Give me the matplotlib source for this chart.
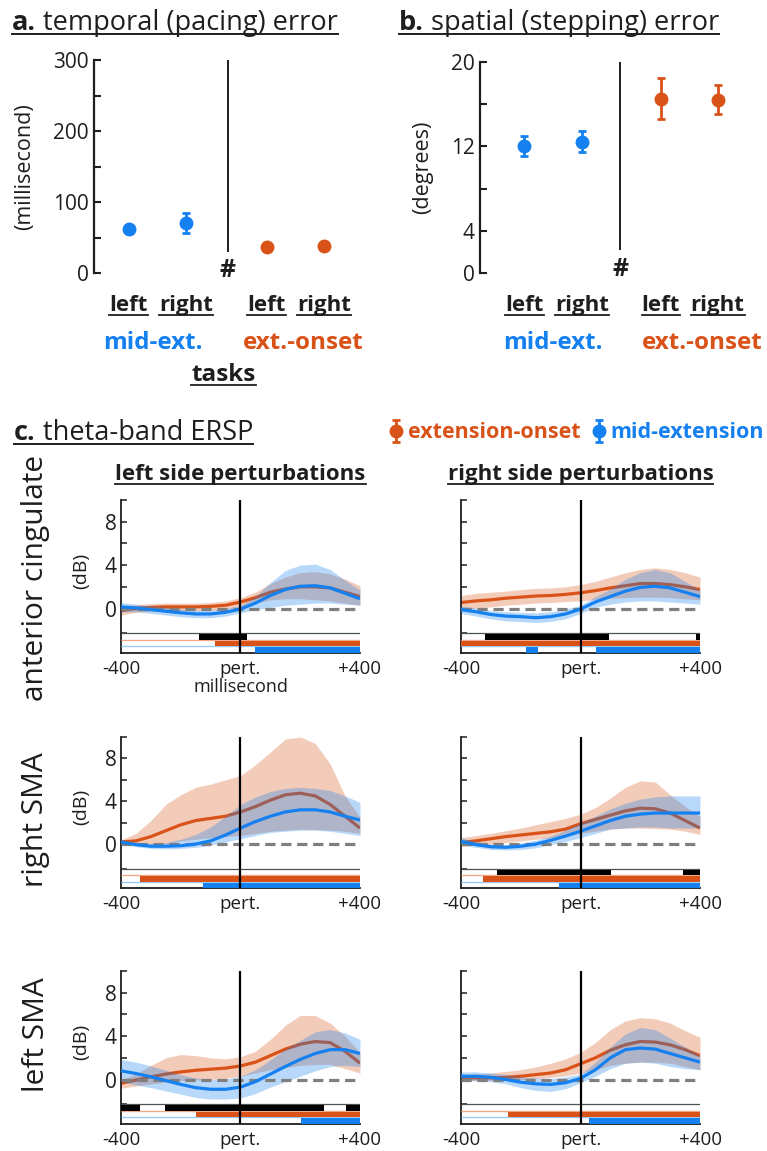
import matplotlib
matplotlib.use('Agg')
import matplotlib.pyplot as plt
from matplotlib.lines import Line2D
import numpy as np

W, H = 767, 1151
plt.rcParams['font.family'] = ['Open Sans', 'DejaVu Sans']

BLUE = '#1580f0'
ORANGE = '#d95319'
DARK = '#1e1e1e'
BLUE_LIGHT = '#9ccbf5'
ORANGE_LIGHT = '#f2a98a'

# ---------------- panel a / b data ----------------
cond_labels = ['left', 'right', 'left', 'right']
task_labels = ['mid-ext.', 'ext.-onset']
pace_mean = [62, 70, 37, 38]
pace_lo = [58, 57, 35, 36]
pace_hi = [66, 84, 39, 40]
step_mean = [12.0, 12.4, 16.5, 16.4]
step_lo = [11.1, 11.5, 14.6, 15.1]
step_hi = [13.0, 13.5, 18.5, 17.8]

# ---------------- panel c data (theta ERSP, dB) ----------------
time_ms = [-400, -350, -300, -250, -200, -150, -100, -50, 0,
           50, 100, 150, 200, 250, 300, 350, 400]

# anterior cingulate, left perturbations
ac_l_org_mean = [-0.2, 0.0, 0.1, 0.15, 0.15, 0.15, 0.2, 0.3, 0.6, 1.0, 1.5, 1.8, 2.0, 2.0, 1.9, 1.5, 1.1]
ac_l_org_hi = [0.2, 0.35, 0.45, 0.5, 0.5, 0.5, 0.55, 0.7, 1.0, 1.5, 2.3, 2.9, 3.3, 3.4, 3.2, 2.7, 2.1]
ac_l_org_lo = [-0.6, -0.35, -0.25, -0.2, -0.2, -0.2, -0.15, -0.1, 0.2, 0.5, 0.8, 0.9, 0.9, 0.8, 0.7, 0.5, 0.3]
ac_l_blu_mean = [0.15, 0.05, -0.1, -0.25, -0.4, -0.5, -0.5, -0.35, -0.05, 0.5, 1.2, 1.75, 2.05, 2.1, 1.9, 1.4, 0.9]
ac_l_blu_hi = [0.55, 0.4, 0.25, 0.1, -0.05, -0.15, -0.15, 0.0, 0.3, 1.1, 2.4, 3.5, 4.0, 4.1, 3.6, 2.6, 1.7]
ac_l_blu_lo = [-0.3, -0.3, -0.45, -0.6, -0.75, -0.85, -0.85, -0.7, -0.4, -0.1, 0.1, 0.3, 0.4, 0.5, 0.5, 0.4, 0.3]
ac_l_sig_black = [(-140, 21)]
ac_l_sig_org = [(-85, 400)]
ac_l_sig_blu = [(47, 400)]

# anterior cingulate, right perturbations
ac_r_org_mean = [0.55, 0.7, 0.8, 0.95, 1.05, 1.15, 1.2, 1.3, 1.45, 1.65, 1.9, 2.1, 2.3, 2.3, 2.2, 2.0, 1.75]
ac_r_org_hi = [1.2, 1.4, 1.5, 1.6, 1.75, 1.85, 1.9, 2.0, 2.2, 2.5, 2.9, 3.3, 3.6, 3.75, 3.6, 3.3, 2.9]
ac_r_org_lo = [-0.1, 0.05, 0.15, 0.3, 0.4, 0.5, 0.55, 0.65, 0.7, 0.85, 0.95, 1.0, 1.05, 1.05, 1.0, 0.9, 0.8]
ac_r_blu_mean = [-0.1, -0.3, -0.55, -0.7, -0.75, -0.85, -0.75, -0.5, -0.05, 0.6, 1.1, 1.6, 1.95, 2.05, 1.9, 1.5, 1.1]
ac_r_blu_hi = [0.25, 0.05, -0.2, -0.3, -0.35, -0.4, -0.3, -0.05, 0.3, 1.1, 1.8, 2.7, 3.3, 3.6, 3.3, 2.5, 1.7]
ac_r_blu_lo = [-0.45, -0.7, -0.95, -1.15, -1.2, -1.3, -1.2, -0.95, -0.45, 0.1, 0.4, 0.6, 0.7, 0.7, 0.6, 0.5, 0.4]
ac_r_sig_black = [(-319, 94), (387, 400)]
ac_r_sig_org = [(-400, 400)]
ac_r_sig_blu = [(-182, -142), (51, 400)]

# right SMA, left perturbations
rs_l_org_mean = [0.2, 0.3, 0.7, 1.25, 1.8, 2.2, 2.4, 2.6, 3.0, 3.5, 4.1, 4.6, 4.75, 4.5, 3.7, 2.6, 1.5]
rs_l_org_hi = [0.4, 1.0, 2.2, 3.7, 4.6, 5.3, 5.6, 6.0, 6.4, 7.4, 8.6, 9.8, 10.0, 9.4, 7.5, 4.5, 2.5]
rs_l_org_lo = [0.0, -0.1, -0.1, 0.0, 0.3, 0.45, 0.6, 0.7, 0.8, 1.0, 1.2, 1.3, 1.4, 1.35, 1.3, 1.2, 1.0]
rs_l_blu_mean = [0.2, -0.05, -0.2, -0.2, -0.15, 0.0, 0.3, 0.85, 1.5, 2.1, 2.6, 3.0, 3.2, 3.2, 3.0, 2.6, 2.25]
rs_l_blu_hi = [0.35, 0.15, 0.05, 0.15, 0.45, 0.9, 1.6, 2.6, 3.7, 4.4, 4.9, 5.2, 5.3, 5.2, 5.0, 4.5, 3.9]
rs_l_blu_lo = [0.0, -0.25, -0.4, -0.45, -0.4, -0.3, -0.1, 0.2, 0.5, 0.8, 1.1, 1.2, 1.3, 1.3, 1.2, 1.0, 0.8]
rs_l_sig_black = []
rs_l_sig_org = [(-335, 400)]
rs_l_sig_blu = [(-124, 400)]

# right SMA, right perturbations
rs_r_org_mean = [0.15, 0.3, 0.5, 0.7, 0.85, 1.0, 1.15, 1.4, 1.9, 2.3, 2.7, 3.1, 3.35, 3.3, 2.9, 2.2, 1.5]
rs_r_org_hi = [0.6, 0.8, 1.0, 1.25, 1.5, 1.8, 2.1, 2.4, 2.8, 3.4, 4.3, 5.3, 5.9, 5.8, 4.6, 3.5, 2.6]
rs_r_org_lo = [-0.2, -0.1, 0.0, 0.15, 0.3, 0.45, 0.6, 0.8, 1.0, 1.2, 1.4, 1.5, 1.5, 1.45, 1.4, 1.2, 0.9]
rs_r_blu_mean = [0.25, -0.05, -0.25, -0.3, -0.2, 0.0, 0.35, 0.75, 1.2, 1.7, 2.2, 2.6, 2.8, 2.9, 2.9, 2.9, 2.9]
rs_r_blu_hi = [0.6, 0.25, 0.0, -0.05, 0.1, 0.35, 0.75, 1.3, 2.0, 2.6, 3.3, 3.8, 4.2, 4.4, 4.5, 4.5, 4.5]
rs_r_blu_lo = [-0.1, -0.3, -0.5, -0.55, -0.5, -0.35, -0.05, 0.25, 0.6, 1.0, 1.4, 1.5, 1.6, 1.6, 1.5, 1.5, 1.5]
rs_r_sig_black = [(-281, 102), (343, 400)]
rs_r_sig_org = [(-326, 400)]
rs_r_sig_blu = [(-72, 400)]

# left SMA, left perturbations
ls_l_org_mean = [-0.35, -0.05, 0.25, 0.5, 0.7, 0.85, 0.95, 1.05, 1.25, 1.6, 2.2, 2.8, 3.25, 3.5, 3.4, 2.6, 1.5]
ls_l_org_hi = [0.0, 0.5, 1.3, 2.0, 2.3, 2.2, 2.0, 1.9, 2.1, 2.6, 3.7, 5.0, 5.9, 5.9, 5.2, 4.0, 2.5]
ls_l_org_lo = [-0.8, -0.6, -0.4, -0.25, -0.1, -0.05, 0.0, 0.1, 0.3, 0.6, 0.9, 1.1, 1.3, 1.4, 1.4, 1.0, 0.6]
ls_l_blu_mean = [0.8, 0.55, 0.25, -0.1, -0.45, -0.75, -0.9, -0.9, -0.7, -0.2, 0.5, 1.2, 1.85, 2.4, 2.75, 2.75, 2.4]
ls_l_blu_hi = [1.85, 1.6, 1.25, 0.85, 0.45, 0.15, 0.0, 0.05, 0.3, 0.9, 1.8, 2.8, 3.6, 4.4, 4.6, 4.3, 3.7]
ls_l_blu_lo = [-0.2, -0.5, -0.75, -1.05, -1.35, -1.65, -1.8, -1.8, -1.7, -1.3, -0.7, -0.2, 0.3, 0.8, 1.2, 1.3, 1.2]
ls_l_sig_black = [(-400, -336), (-253, 278), (354, 400)]
ls_l_sig_org = [(-148, 400)]
ls_l_sig_blu = [(204, 400)]

# left SMA, right perturbations
ls_r_org_mean = [0.15, 0.15, 0.15, 0.2, 0.3, 0.45, 0.6, 0.9, 1.45, 2.0, 2.7, 3.2, 3.5, 3.45, 3.2, 2.75, 2.2]
ls_r_org_hi = [0.4, 0.5, 0.6, 0.75, 0.9, 1.15, 1.5, 1.9, 2.5, 3.4, 4.6, 5.4, 5.7, 5.6, 5.2, 4.5, 3.9]
ls_r_org_lo = [-0.1, -0.1, -0.1, -0.05, 0.0, 0.1, 0.2, 0.35, 0.6, 0.9, 1.3, 1.5, 1.6, 1.6, 1.5, 1.2, 0.9]
ls_r_blu_mean = [0.3, 0.3, 0.2, 0.0, -0.25, -0.4, -0.45, -0.3, 0.1, 0.9, 2.0, 2.75, 2.9, 2.8, 2.4, 2.0, 1.6]
ls_r_blu_hi = [0.7, 0.7, 0.6, 0.45, 0.25, 0.15, 0.1, 0.25, 0.5, 1.6, 3.0, 4.2, 4.8, 4.6, 3.8, 3.0, 2.2]
ls_r_blu_lo = [-0.1, -0.1, -0.2, -0.4, -0.75, -1.0, -1.1, -0.85, -0.3, 0.3, 1.0, 1.5, 1.6, 1.5, 1.2, 1.0, 0.9]
ls_r_sig_black = []
ls_r_sig_org = [(-244, 400)]
ls_r_sig_blu = [(30, 400)]

row_names = ['anterior cingulate', 'right SMA', 'left SMA']
col_names = ['left side perturbations', 'right side perturbations']
xtick_vals = [-400, 0, 400]
xtick_text = ['-400', 'pert.', '+400']

panels = [
    [(ac_l_org_mean, ac_l_org_lo, ac_l_org_hi, ac_l_blu_mean, ac_l_blu_lo, ac_l_blu_hi,
      ac_l_sig_black, ac_l_sig_org, ac_l_sig_blu),
     (ac_r_org_mean, ac_r_org_lo, ac_r_org_hi, ac_r_blu_mean, ac_r_blu_lo, ac_r_blu_hi,
      ac_r_sig_black, ac_r_sig_org, ac_r_sig_blu)],
    [(rs_l_org_mean, rs_l_org_lo, rs_l_org_hi, rs_l_blu_mean, rs_l_blu_lo, rs_l_blu_hi,
      rs_l_sig_black, rs_l_sig_org, rs_l_sig_blu),
     (rs_r_org_mean, rs_r_org_lo, rs_r_org_hi, rs_r_blu_mean, rs_r_blu_lo, rs_r_blu_hi,
      rs_r_sig_black, rs_r_sig_org, rs_r_sig_blu)],
    [(ls_l_org_mean, ls_l_org_lo, ls_l_org_hi, ls_l_blu_mean, ls_l_blu_lo, ls_l_blu_hi,
      ls_l_sig_black, ls_l_sig_org, ls_l_sig_blu),
     (ls_r_org_mean, ls_r_org_lo, ls_r_org_hi, ls_r_blu_mean, ls_r_blu_lo, ls_r_blu_hi,
      ls_r_sig_black, ls_r_sig_org, ls_r_sig_blu)],
]

# ---------------- figure ----------------
fig = plt.figure(figsize=(W / 100, H / 100), dpi=100)
fig.patch.set_facecolor('white')


def ax_px(left, top, right, bottom):
    return fig.add_axes([left / W, 1 - bottom / H, (right - left) / W, (bottom - top) / H])


def ftext(x, y, s, **kw):
    return fig.text(x / W, 1 - y / H, s, **kw)


def underline(t, gap=3.5, lw=1.3):
    r = fig.canvas.get_renderer()
    bb = t.get_window_extent(r)
    yb = t.get_transform().transform(t.get_position())[1]
    y = (yb - gap) / H
    fig.add_artist(Line2D([bb.x0 / W, bb.x1 / W], [y, y], transform=fig.transFigure,
                          color=t.get_color(), lw=lw))


def rich(x, y, pieces, size, gap=4):
    r = fig.canvas.get_renderer()
    cur = x
    for s, weight in pieces:
        t = ftext(cur, y, s, fontsize=size, fontweight=weight, ha='left', va='baseline', color=DARK)
        cur = t.get_window_extent(r).x1
    yy = (H - y - gap) / H
    fig.add_artist(Line2D([x / W, cur / W], [yy, yy], transform=fig.transFigure, color=DARK, lw=1.4))


def style_top(ax):
    for s in ['top', 'right', 'bottom']:
        ax.spines[s].set_visible(False)
    ax.spines['left'].set_linewidth(1.6)
    ax.spines['left'].set_color(DARK)
    ax.set_xticks([])
    ax.tick_params(axis='y', which='both', direction='in', length=5, width=1.5,
                   colors=DARK, labelsize=15, pad=4)
    ax.patch.set_alpha(0)


# ---- panel a ----
pos_a = [0, 1, 2.4, 3.4]
task_pos_a = [0.43, 3.04]
axa = ax_px(94, 60, 353, 273)
axa.set_xlim(-0.6, 3.9)
axa.set_ylim(0, 300)
m = np.array(pace_mean, float)
err_lo = m - np.array(pace_lo)
err_hi = np.array(pace_hi) - m
eb_blue = axa.errorbar(pos_a[:2], m[:2], yerr=[err_lo[:2], err_hi[:2]], fmt='o', color=BLUE,
                       ms=9, capsize=3, elinewidth=2, capthick=2, clip_on=False)
eb_org = axa.errorbar(pos_a[2:], m[2:], yerr=[err_lo[2:], err_hi[2:]], fmt='o', color=ORANGE,
                      ms=9, capsize=3, elinewidth=2, capthick=2, clip_on=False)
axa.vlines(1.72, 30, 300, color=DARK, lw=1.4)
axa.text(1.72, 4, '#', ha='center', va='center', fontsize=18, fontweight='bold', color=DARK)
axa.set_yticks([0, 100, 200, 300])
axa.set_yticks([50, 150, 250], minor=True)
style_top(axa)
ftext(25, 167, '(millisecond)', rotation=90, ha='center', va='center', fontsize=15.5, color=DARK)

# ---- panel b ----
pos_b = [0, 1, 2.37, 3.36]
task_pos_b = [0.49, 3.10]
axb = ax_px(480, 62, 743, 273)
axb.set_xlim(-0.77, 3.8)
axb.set_ylim(0, 20)
m = np.array(step_mean, float)
err_lo = m - np.array(step_lo)
err_hi = np.array(step_hi) - m
axb.errorbar(pos_b[:2], m[:2], yerr=[err_lo[:2], err_hi[:2]], fmt='o', color=BLUE,
             ms=9, capsize=3, elinewidth=2, capthick=2, clip_on=False)
axb.errorbar(pos_b[2:], m[2:], yerr=[err_lo[2:], err_hi[2:]], fmt='o', color=ORANGE,
             ms=9, capsize=3, elinewidth=2, capthick=2, clip_on=False)
axb.vlines(1.67, 2.2, 20, color=DARK, lw=1.4)
axb.text(1.67, 0.3, '#', ha='center', va='center', fontsize=18, fontweight='bold', color=DARK)
axb.set_yticks([0, 4, 12, 20])
axb.set_yticks([8, 16], minor=True)
style_top(axb)
ftext(423, 167, '(degrees)', rotation=90, ha='center', va='center', fontsize=15.5, color=DARK)

# category labels for a and b
to_underline = []
for ax, pos, tpos, ax_h, ax_bottom in [(axa, pos_a, task_pos_a, 213, 273),
                                        (axb, pos_b, task_pos_b, 211, 273)]:
    for p, lab in zip(pos, cond_labels):
        t = ax.text(p, (ax_bottom - 311) / ax_h, lab, transform=ax.get_xaxis_transform(),
                    ha='center', va='baseline', fontsize=16, fontweight='bold', color=DARK)
        to_underline.append(t)
    for xc, lab, col in zip(tpos, task_labels, [BLUE, ORANGE]):
        ax.text(xc, (ax_bottom - 349) / ax_h, lab, transform=ax.get_xaxis_transform(),
                ha='center', va='baseline', fontsize=17.5, fontweight='bold', color=col)
t = axa.text(1.65, (273 - 381) / 213, 'tasks', transform=axa.get_xaxis_transform(),
             ha='center', va='baseline', fontsize=17.5, fontweight='bold', color=DARK)
to_underline.append(t)

# ---- panel c ----
col_x = [(121, 360), (461, 700)]
row_y = [(500, 653), (737, 888), (971, 1124)]
YLIM = (-4.1, 10.0)
ROW_TOP = [-2.3, -2.9, -3.5]
ROW_H = 0.6

t_arr = np.array(time_ms)
for i, (yt, yb) in enumerate(row_y):
    for j, (xl, xr) in enumerate(col_x):
        om, olo, ohi, bm, blo, bhi, sbk, sor, sbl = panels[i][j]
        ax = ax_px(xl, yt, xr, yb)
        ax.fill_between(t_arr, olo, ohi, color=ORANGE, alpha=0.3, lw=0, zorder=1)
        ax.plot(t_arr, om, color=ORANGE, lw=2.3, zorder=2, solid_capstyle='butt')
        ax.fill_between(t_arr, blo, bhi, color=BLUE, alpha=0.3, lw=0, zorder=3)
        ax.axhline(0, color='#7f7f7f', lw=2.3, dashes=(3.2, 1.8), zorder=3.5)
        ax.plot(t_arr, bm, color=BLUE, lw=2.3, zorder=4, solid_capstyle='butt')
        # significance rows
        ax.hlines(ROW_TOP[0], -400, 400, color='#505050', lw=0.9, zorder=4)
        ax.hlines(ROW_TOP[1], -400, 400, color=ORANGE_LIGHT, lw=1.0, zorder=4)
        ax.hlines(ROW_TOP[2], -400, 400, color=BLUE_LIGHT, lw=1.0, zorder=4)
        for segs, col, top in [(sbk, 'black', ROW_TOP[0]), (sor, ORANGE, ROW_TOP[1]),
                               (sbl, BLUE, ROW_TOP[2])]:
            if segs:
                ax.broken_barh([(a, b - a) for a, b in segs], (top - ROW_H, ROW_H * 0.85),
                               facecolor=col, edgecolor='none', zorder=4.5)
        ax.axvline(0, color='black', lw=1.6, zorder=6)
        ax.set_xlim(-400, 400)
        ax.set_ylim(*YLIM)
        for s in ['top', 'right']:
            ax.spines[s].set_visible(False)
        for s in ['left', 'bottom']:
            ax.spines[s].set_linewidth(1.3)
            ax.spines[s].set_color(DARK)
        ax.set_yticks([-2.3, 0, 2, 4, 6, 8, 10])
        if j == 0:
            ax.set_yticklabels(['', '0', '', '4', '', '8', ''])
        else:
            ax.set_yticklabels([])
        ax.set_xticks(xtick_vals)
        ax.set_xticklabels(xtick_text)
        ax.tick_params(axis='y', direction='in', length=4, width=1.1, colors=DARK,
                       labelsize=15, pad=3)
        ax.tick_params(axis='x', length=0, labelsize=13.5, pad=5, colors=DARK)
        if i == 0 and j == 0:
            ax.set_xlabel('millisecond', fontsize=13, labelpad=0, color=DARK)
    ftext(81, (yt + yb) / 2 - 6, '(dB)', rotation=90, ha='center', va='center', fontsize=14, color=DARK)

row_centers = [578, 820, 1035]
for name, yc in zip(row_names, row_centers):
    ftext(36, yc, name, rotation=90, ha='center', va='center', fontsize=21.5, color=DARK)

for (xl, xr), name in zip(col_x, col_names):
    t = ftext((xl + xr) / 2, 480, name, ha='center', va='baseline', fontsize=16,
              fontweight='bold', color=DARK)
    to_underline.append(t)

# titles
fig.canvas.draw()
rich(12, 30, [('a.', 'bold'), (' temporal (pacing) error', 'normal')], 19.5)
rich(399, 30, [('b.', 'bold'), (' spatial (stepping) error', 'normal')], 19.5)
rich(14, 440, [('c.', 'bold'), (' theta-band ERSP', 'normal')], 19.5)
for t in to_underline:
    underline(t, gap=3.5, lw=1.3)

leg = fig.legend(handles=[eb_org, eb_blue], labels=['extension-onset', 'mid-extension'],
                 loc='center right', bbox_to_anchor=(764 / W, 1 - 433 / H), ncol=2,
                 frameon=False, handlelength=0.5, handletextpad=0.3, columnspacing=0.6,
                 prop={'weight': 'bold', 'size': 15.5}, borderaxespad=0, borderpad=0)
for txt, col in zip(leg.get_texts(), [ORANGE, BLUE]):
    txt.set_color(col)

fig.savefig('out.png', dpi=100)
